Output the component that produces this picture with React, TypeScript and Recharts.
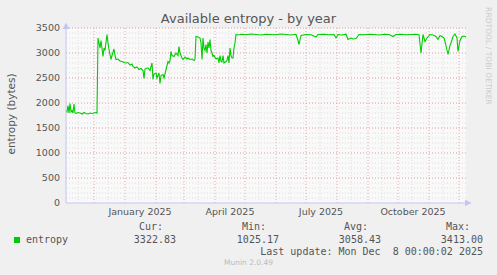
import React from 'react';
import { LineChart, Line, XAxis, YAxis, CartesianGrid } from 'recharts';

// days counted from 2024-11-03 (start of the 400-day window)
const days = [
  0, 1, 2, 3, 4, 5, 6, 7, 8, 9, 10, 12, 14, 16, 18, 20, 22, 24, 26, 28, 30, 31,
  32, 33, 34, 35, 37, 38, 39, 41, 42, 43, 45, 46, 48, 49, 50, 52, 54, 56, 58, 60,
  62, 64, 66, 67, 69, 71, 73, 75, 77, 78, 79, 81, 82, 84, 86, 87, 88, 90, 91, 93,
  94, 95, 97, 98, 100, 102, 103, 104, 105, 106, 108, 110, 112, 113, 114, 116, 117,
  119, 121, 122, 124, 126, 128, 129, 130, 132, 134, 135, 136, 137, 138, 139, 140,
  141, 142, 143, 144, 145, 146, 147, 148, 150, 152, 153, 154, 155, 156, 157, 158,
  160, 161, 162, 163, 164, 165, 166, 167, 168, 169, 170, 172, 176, 180, 185, 190,
  195, 200, 205, 210, 215, 220, 225, 230, 232, 233, 235, 240, 245, 250, 252, 258,
  263, 268, 270, 272, 276, 280, 282, 285, 287, 290, 293, 298, 303, 308, 313, 318,
  323, 327, 330, 335, 340, 345, 350, 353, 355, 357, 359, 361, 364, 367, 370, 372,
  374, 376, 378, 379, 382, 384, 385, 387, 389, 391, 392, 394, 396, 398, 400,
];

const entropy = [
  1850, 1820, 1950, 1800, 1990, 1820, 1850, 1800, 1980, 1800, 1790, 1810, 1800, 1780, 1810, 1790, 1780, 1800, 1790, 1800, 1810, 1800,
  3300, 3200, 3100, 3250, 2930, 3100, 3050, 3370, 3200, 3070, 2870, 2950, 3080, 2950, 2870, 2880, 2840, 2830, 2810, 2800,
  2810, 2760, 2780, 2730, 2700, 2720, 2670, 2690, 2650, 2490, 2680, 2700, 2700, 2650, 2800, 2470, 2580, 2600, 2500, 2600,
  2390, 2550, 2570, 2500, 2670, 2830, 2800, 2850, 3030, 2950, 2930, 3000, 2950, 3130, 3000, 2900, 2870,
  2920, 2880, 2900, 2870, 2880, 2850, 2880, 3330, 3320, 3300, 3200, 2870, 3300, 3100, 3050, 3170,
  3000, 3220, 3100, 3270, 3050, 3000, 2930, 2950, 2880, 2900, 2800, 2950, 2830, 2820, 2950, 2800,
  2830, 2850, 2950, 2800, 3100, 2950, 2900, 2900, 3100, 3200, 3370, 3360, 3375, 3365, 3380, 3370,
  3360, 3375, 3370, 3365, 3380, 3370, 3360, 3375, 3250, 3170, 3350, 3370, 3365, 3320, 3370, 3375,
  3365, 3370, 3300, 3370, 3360, 3375, 3270, 3300, 3280, 3290, 3370, 3365, 3375, 3370, 3360, 3375,
  3370, 3330, 3370, 3375, 3365, 3370, 3375, 3365, 3000, 3370, 3230, 3300, 3370, 3360, 3330, 3270,
  3350, 3330, 3300, 3230, 2970, 3150, 3200, 3330, 3380, 3300, 3030, 3250, 3330, 3340, 3320,
];

const data = days.map((d, i) => ({ day: d, entropy: entropy[i] }));

// month starts (major grid) and mid-months (minor grid), as day offsets
const monthStarts = [28, 59, 90, 118, 149, 179, 210, 240, 271, 302, 332, 363, 393];
const midMonths = [12, 42, 73, 104, 132, 163, 193, 224, 254, 285, 316, 346, 377];
const labelDays = [74, 164, 255, 347];
const labelNames = ['January 2025', 'April 2025', 'July 2025', 'October 2025'];

const majorY = [500, 1000, 1500, 2000, 2500, 3000, 3500];
const minorY = Array.from({ length: 35 }, (_, i) => (i + 1) * 100);
const yTicks = [0, 500, 1000, 1500, 2000, 2500, 3000, 3500];

const stats = [
  { name: 'Cur:', value: '3322.83', right: 176 },
  { name: 'Min:', value: '1025.17', right: 279 },
  { name: 'Avg:', value: '3058.43', right: 381 },
  { name: 'Max:', value: '3413.00', right: 483 },
];

const sans = '"DejaVu Sans", sans-serif';
const mono = '"DejaVu Sans Mono", monospace';
const axisColor = '#c4c4f4';

export default function App() {
  return (
    <div style={{ position: 'absolute', left: 0, top: 0, width: 497, height: 275, background: '#f0f0f0', overflow: 'hidden' }}>
      <div style={{ position: 'absolute', left: 0, width: 497, top: 11, textAlign: 'center', fontFamily: sans, fontSize: 13, lineHeight: '15px', color: '#555' }}>
        Available entropy - by year
      </div>
      <div style={{ position: 'absolute', left: 11, top: 114, width: 0, height: 0 }}>
        <div style={{ position: 'absolute', transform: 'translate(-50%, -50%) rotate(-90deg)', whiteSpace: 'nowrap', fontFamily: sans, fontSize: 10.5, color: '#555' }}>
          entropy (bytes)
        </div>
      </div>
      <div style={{ position: 'absolute', left: 488, top: 56, width: 0, height: 0 }}>
        <div style={{ position: 'absolute', transform: 'translate(-50%, -50%) rotate(90deg)', whiteSpace: 'nowrap', fontFamily: sans, fontSize: 7.6, color: '#cccccc' }}>
          RRDTOOL / TOBI OETIKER
        </div>
      </div>

      <div style={{ position: 'absolute', left: 0, top: 0 }}>
        <LineChart width={497} height={275} data={data} margin={{ top: 28, right: 31, bottom: 0, left: 0 }}>
          <defs>
            <marker id="arrow" viewBox="0 0 10 10" refX="2" refY="5" markerWidth="7" markerHeight="7" orient="auto-start-reverse" markerUnits="userSpaceOnUse">
              <path d="M0,0 L10,5 L0,10 z" fill={axisColor} />
            </marker>
          </defs>
          <CartesianGrid
            fill="#f9f9f9"
            stroke="#dedede"
            strokeDasharray="1 2"
            horizontalValues={minorY}
            verticalValues={midMonths}
          />
          <CartesianGrid
            fill="none"
            stroke="#eaa8a8"
            strokeDasharray="1 2"
            horizontalValues={majorY}
            verticalValues={monthStarts}
          />
          <XAxis
            dataKey="day"
            type="number"
            domain={[0, 400]}
            ticks={labelDays}
            tickFormatter={(v: number) => labelNames[labelDays.indexOf(v)] ?? ''}
            interval={0}
            height={72}
            tickLine={false}
            tickSize={0}
            tickMargin={5}
            axisLine={{ stroke: axisColor, markerEnd: 'url(#arrow)' }}
            tick={{ fill: '#555', fontSize: 9.5, fontFamily: sans }}
          />
          <YAxis
            type="number"
            domain={[0, 3500]}
            ticks={yTicks}
            interval={0}
            width={66}
            tickLine={false}
            tickSize={0}
            tickMargin={6}
            axisLine={{ stroke: axisColor, markerStart: 'url(#arrow)' }}
            tick={{ fill: '#555', fontSize: 9.5, fontFamily: sans }}
          />
          <Line
            type="linear"
            dataKey="entropy"
            stroke="#00cc00"
            strokeWidth={1.1}
            dot={false}
            isAnimationActive={false}
          />
        </LineChart>
      </div>

      {stats.map((s) => (
        <React.Fragment key={s.name}>
          <div style={{ position: 'absolute', right: 497 - s.right + 13, top: 221, fontFamily: mono, fontSize: 10, lineHeight: '12px', color: '#555', whiteSpace: 'pre' }}>
            {s.name}
          </div>
          <div style={{ position: 'absolute', right: 497 - s.right, top: 234, fontFamily: mono, fontSize: 10, lineHeight: '12px', color: '#555', whiteSpace: 'pre' }}>
            {s.value}
          </div>
        </React.Fragment>
      ))}
      <div style={{ position: 'absolute', left: 14, top: 237, width: 6, height: 6, background: '#00cc00' }} />
      <div style={{ position: 'absolute', left: 26, top: 234, fontFamily: mono, fontSize: 10, lineHeight: '12px', color: '#555' }}>
        entropy
      </div>
      <div style={{ position: 'absolute', right: 497 - 483, top: 246, fontFamily: mono, fontSize: 10, lineHeight: '12px', color: '#555', whiteSpace: 'pre' }}>
        {'Last update: Mon Dec  8 00:00:02 2025'}
      </div>
      <div style={{ position: 'absolute', left: 0, width: 497, top: 258, textAlign: 'center', fontFamily: sans, fontSize: 7.5, lineHeight: '10px', color: '#bbb' }}>
        Munin 2.0.49
      </div>
    </div>
  );
}
